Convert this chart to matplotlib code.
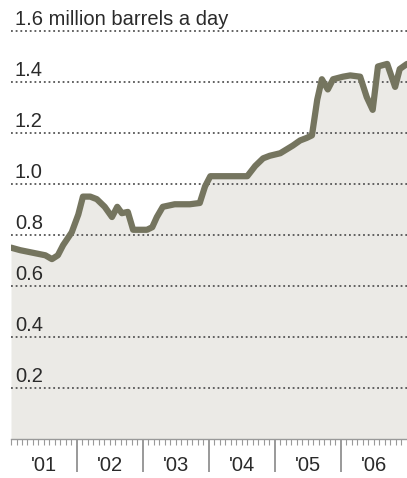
import matplotlib.pyplot as plt
import numpy as np

plt.rcParams['font.family'] = ['Liberation Sans', 'DejaVu Sans']

# decimal year, million barrels a day
years = [2001.00, 2001.14, 2001.33, 2001.52, 2001.62, 2001.71, 2001.79, 2001.92,
         2002.02, 2002.09, 2002.20, 2002.30, 2002.42, 2002.53, 2002.61, 2002.68,
         2002.77, 2002.85, 2002.95, 2003.06, 2003.14, 2003.21, 2003.30, 2003.48,
         2003.71, 2003.86, 2003.94, 2004.02, 2004.32, 2004.58, 2004.70, 2004.82,
         2004.92, 2005.08, 2005.27, 2005.38, 2005.48, 2005.56, 2005.64, 2005.71,
         2005.80, 2005.88, 2006.03, 2006.14, 2006.29, 2006.39, 2006.48, 2006.56,
         2006.70, 2006.82, 2006.89, 2007.00]
barrels = [0.75, 0.74, 0.73, 0.72, 0.705, 0.72, 0.76, 0.81,
           0.88, 0.95, 0.95, 0.94, 0.91, 0.87, 0.91, 0.885,
           0.89, 0.82, 0.82, 0.82, 0.83, 0.87, 0.91, 0.92,
           0.92, 0.925, 0.99, 1.03, 1.03, 1.03, 1.07, 1.10,
           1.11, 1.12, 1.15, 1.17, 1.18, 1.19, 1.33, 1.41,
           1.37, 1.41, 1.42, 1.425, 1.42, 1.34, 1.29, 1.46,
           1.47, 1.38, 1.45, 1.47]

grid_vals = [0.2, 0.4, 0.6, 0.8, 1.0, 1.2, 1.4, 1.6]
grid_labels = ['0.2', '0.4', '0.6', '0.8', '1.0', '1.2', '1.4',
               '1.6 million barrels a day']
year_labels = ["'01", "'02", "'03", "'04", "'05", "'06"]

line_color = '#75755f'
fill_color = '#ebeae6'
text_color = '#2a2a2a'

fig = plt.figure(figsize=(4.07, 4.78), dpi=100)
ax = fig.add_axes([11/407, 39/478, 396/407, 421/478])

ax.fill_between(years, barrels, 0, color=fill_color, lw=0, zorder=1)
for v, lab in zip(grid_vals, grid_labels):
    ax.axhline(v, color='#555555', lw=1.3, ls=(0, (1, 1.6)), zorder=2)
    ax.annotate(lab, xy=(0.01, v), xycoords=('axes fraction', 'data'),
                xytext=(0, 4), textcoords='offset points',
                ha='left', va='baseline', fontsize=14.5, color=text_color)
ax.plot(years, barrels, color=line_color, lw=4.5, solid_joinstyle='round',
        solid_capstyle='round', zorder=3)

ax.set_xlim(2001, 2007)
ax.set_ylim(0, 1.65)

# year boundaries as long ticks, months as short ones
ax.set_xticks(np.arange(2002, 2007))
ax.set_xticks(np.arange(2001, 2007, 1/12), minor=True)
ax.tick_params(axis='x', which='major', length=24, width=1.2, color='#888888',
               direction='out', labelbottom=False)
ax.tick_params(axis='x', which='minor', length=4.5, width=0.8, color='#999999',
               direction='out')
ax.set_yticks([])
for yr, lab in zip(range(2001, 2007), year_labels):
    ax.annotate(lab, xy=(yr + 0.5, 0), xycoords='data',
                xytext=(0, -19), textcoords='offset points',
                ha='center', va='center', fontsize=14.5, color=text_color,
                annotation_clip=False)

for s in ['top', 'left', 'right']:
    ax.spines[s].set_visible(False)
ax.spines['bottom'].set_color('#999999')
ax.spines['bottom'].set_linewidth(1.0)

fig.savefig('out.png', dpi=100)
